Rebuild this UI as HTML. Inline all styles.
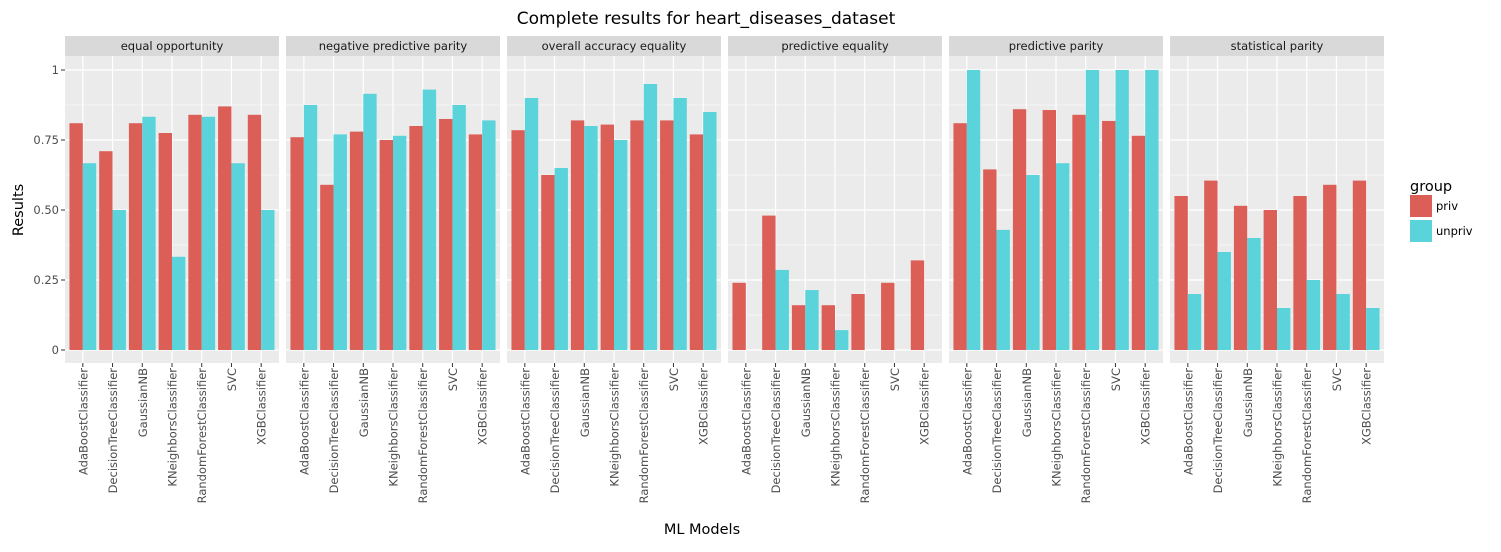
<!DOCTYPE html>
<html><head><meta charset="utf-8"><style>
body{margin:0;background:#fff;width:1501px;height:547px;overflow:hidden;font-family:"Liberation Sans","DejaVu Sans",sans-serif}
svg text{font-family:"DejaVu Sans","Liberation Sans",sans-serif}
</style></head><body>
<svg id="c" width="1501" height="547" xmlns="http://www.w3.org/2000/svg"></svg>
<script>
const facets=["equal opportunity","negative predictive parity","overall accuracy equality","predictive equality","predictive parity","statistical parity"];
const models=["AdaBoostClassifier","DecisionTreeClassifier","GaussianNB","KNeighborsClassifier","RandomForestClassifier","SVC","XGBClassifier"];
const privVals=[
[0.81,0.71,0.81,0.775,0.84,0.87,0.84],
[0.76,0.59,0.78,0.75,0.80,0.825,0.77],
[0.785,0.625,0.82,0.805,0.82,0.82,0.77],
[0.24,0.48,0.16,0.16,0.20,0.24,0.32],
[0.81,0.645,0.86,0.857,0.84,0.818,0.765],
[0.55,0.605,0.515,0.5,0.55,0.59,0.605]];
const unprivVals=[
[0.667,0.5,0.833,0.333,0.833,0.667,0.5],
[0.875,0.77,0.915,0.765,0.93,0.875,0.82],
[0.90,0.65,0.80,0.75,0.95,0.90,0.85],
[0,0.286,0.214,0.071,0,0,0],
[1,0.429,0.625,0.667,1,1,1],
[0.2,0.35,0.4,0.15,0.25,0.2,0.15]];
const yTicks=[0,0.25,0.5,0.75,1];
const yTickLabels=["0","0.25","0.50","0.75","1"];
const NS="http://www.w3.org/2000/svg",svg=document.getElementById('c');
function mk(t,a,p){const e=document.createElementNS(NS,t);for(const k in a)e.setAttribute(k,a[k]);(p||svg).appendChild(e);return e;}
const pTop=56,pBot=363,pw=214,gap=7,x0=65;
const y=v=>350-v*280;
const unit=pw/7.2;
let t=mk('text',{x:706,y:24,'text-anchor':'middle','font-size':17,fill:'#000'});t.textContent="Complete results for heart_diseases_dataset";

facets.forEach((f,fi)=>{
 const px=x0+fi*(pw+gap);
 const g=mk('g',{});
 
 
 let s=mk('rect',{x:px,y:36,width:pw,height:20,fill:'#D9D9D9'},g);
 
 let st=mk('text',{x:px+pw/2,y:50,'text-anchor':'middle','font-size':11.5,fill:'#1a1a1a'},g);st.textContent=f;
 
 mk('rect',{x:px,y:pTop,width:pw,height:pBot-pTop,fill:'#EBEBEB'},g);
 for(let i=0;i<yTicks.length-1;i++){const m=(yTicks[i]+yTicks[i+1])/2;mk('line',{x1:px,x2:px+pw,y1:y(m),y2:y(m),stroke:'#fff','stroke-width':0.6},g);}
 yTicks.forEach(v=>mk('line',{x1:px,x2:px+pw,y1:y(v),y2:y(v),stroke:'#fff','stroke-width':1.2},g));
 const cx=i=>px+(i+0.6)*unit;
 models.forEach((m,i)=>{mk('line',{x1:cx(i),x2:cx(i),y1:pTop,y2:pBot,stroke:'#fff','stroke-width':1.2},g);
  mk('line',{x1:cx(i),x2:cx(i),y1:pBot,y2:pBot+4,stroke:'#333','stroke-width':1},g);
  let lt=mk('text',{transform:`translate(${cx(i)+4.5},368) rotate(-90)`,'text-anchor':'end','font-size':11.5,fill:'#4d4d4d'},g);lt.textContent=m;
  
 });
 const bw=unit*0.45;
 models.forEach((m,i)=>{
  const v1=privVals[fi][i],v2=unprivVals[fi][i];
  let b=mk('rect',{x:cx(i)-bw,y:y(v1),width:bw,height:y(0)-y(v1),fill:'#DC5F57'},g);
  
  let b2=mk('rect',{x:cx(i),y:y(v2),width:bw,height:y(0)-y(v2),fill:'#5AD3DB'},g);
  
 });
});
yTicks.forEach((v,i)=>{mk('line',{x1:61,x2:65,y1:y(v),y2:y(v),stroke:'#333','stroke-width':1});
 let l=mk('text',{x:59,y:y(v)+4,'text-anchor':'end','font-size':11.5,fill:'#4d4d4d'});l.textContent=yTickLabels[i];
 });
let yt=mk('text',{transform:'translate(23,210) rotate(-90)','text-anchor':'middle','font-size':14.5,fill:'#000'});yt.textContent="Results";

let xt=mk('text',{x:702,y:534,'text-anchor':'middle','font-size':14.5,fill:'#000'});xt.textContent="ML Models";

let lg=mk('text',{x:1410,y:191,'font-size':14.5,fill:'#000'});lg.textContent="group";

[["priv","#DC5F57"],["unpriv","#5AD3DB"]].forEach((e,i)=>{
 let r=mk('rect',{x:1410,y:195+i*25,width:22,height:22,fill:e[1]});
 
 let lt=mk('text',{x:1436,y:210+i*25,'font-size':11.5,fill:'#000'});lt.textContent=e[0];
 
});
</script>
</body></html>
